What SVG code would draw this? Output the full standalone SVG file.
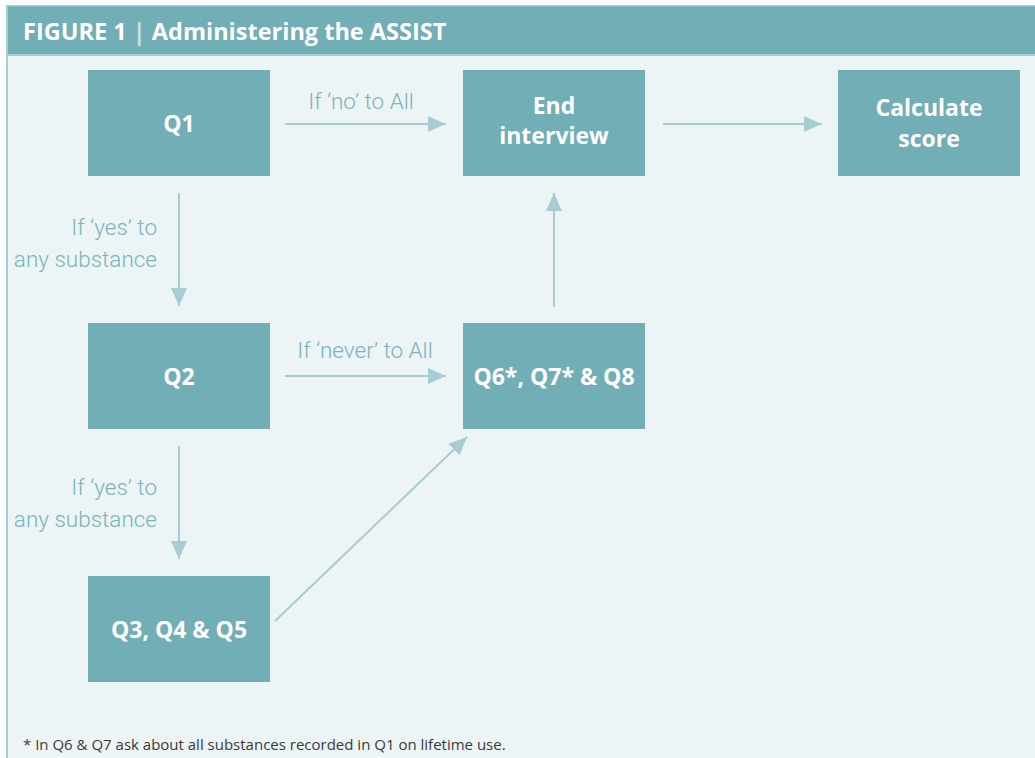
<svg xmlns="http://www.w3.org/2000/svg" width="1035" height="758" viewBox="0 0 1035 758">
<defs>
<style>
.box{fill:#72aeb6}
.bt{fill:#ffffff;font-family:"Open Sans","Noto Sans",sans-serif;font-weight:700;font-size:23px;text-anchor:middle}
.lbl{fill:#7ab3bb;font-family:"Roboto","Open Sans",sans-serif;font-weight:300;font-size:22.5px}
.con{stroke:#a6cdd3;stroke-width:2;fill:none;marker-end:url(#ah)}
</style>
<marker id="ah" viewBox="0 0 18 16" refX="18" refY="8" markerWidth="18" markerHeight="16" markerUnits="userSpaceOnUse" orient="auto">
<path d="M0,0 L18,8 L0,16 Z" fill="#a6cdd3"/>
</marker>
</defs>
<rect x="0" y="0" width="1035" height="758" fill="#ffffff"/>
<rect x="7" y="6" width="1028" height="752" fill="#ecf4f6"/>
<rect x="7" y="6" width="1028" height="48" fill="#72aeb6"/>
<rect x="7" y="54" width="1028" height="2" fill="#a6cdd3"/>
<rect x="6" y="5" width="1029" height="1.5" fill="#a6cdd3"/>
<rect x="6" y="5" width="2" height="753" fill="#a6cdd3"/>
<text x="23" y="40" font-family="'Open Sans','Noto Sans',sans-serif" font-weight="700" font-size="23.5" fill="#ffffff">FIGURE 1 <tspan fill="#c9e1e5">|</tspan> Administering the ASSIST</text>

<g id="connectors">
<line class="con" x1="285" y1="124" x2="446" y2="124"/>
<line class="con" x1="663" y1="124" x2="822" y2="124"/>
<line class="con" x1="179" y1="193" x2="179" y2="306"/>
<line class="con" x1="285" y1="376" x2="446" y2="376"/>
<line class="con" x1="554" y1="307" x2="554" y2="193"/>
<line class="con" x1="179" y1="446" x2="179" y2="559"/>
<line class="con" x1="275" y1="621" x2="467" y2="437"/>
<text class="lbl" x="361" y="109" text-anchor="middle">If ‘no’ to All</text>
<text class="lbl" x="365" y="358" text-anchor="middle">If ‘never’ to All</text>
<text class="lbl" x="157" y="235" text-anchor="end">If ‘yes’ to</text>
<text class="lbl" x="157" y="267" text-anchor="end">any substance</text>
<text class="lbl" x="157" y="495" text-anchor="end">If ‘yes’ to</text>
<text class="lbl" x="157" y="527" text-anchor="end">any substance</text>
</g>

<g id="q1"><rect class="box" x="88" y="70" width="182" height="106"/><text class="bt" x="179" y="132">Q1</text></g>
<g id="end"><rect class="box" x="463" y="70" width="182" height="106"/><text class="bt" x="554" y="114">End</text><text class="bt" x="554" y="144">interview</text></g>
<g id="calc"><rect class="box" x="838" y="70" width="182" height="106"/><text class="bt" x="929" y="116">Calculate</text><text class="bt" x="929" y="147">score</text></g>
<g id="q2"><rect class="box" x="88" y="323" width="182" height="106"/><text class="bt" x="179" y="385">Q2</text></g>
<g id="q678"><rect class="box" x="463" y="323" width="182" height="106"/><text class="bt" x="554" y="385">Q6*, Q7* &amp; Q8</text></g>
<g id="q345"><rect class="box" x="88" y="576" width="182" height="106"/><text class="bt" x="179" y="638">Q3, Q4 &amp; Q5</text></g>

<text x="23" y="750" font-family="'Open Sans','Noto Sans',sans-serif" font-size="15" fill="#3a3a3a">* In Q6 &amp; Q7 ask about all substances recorded in Q1 on lifetime use.</text>
</svg>
